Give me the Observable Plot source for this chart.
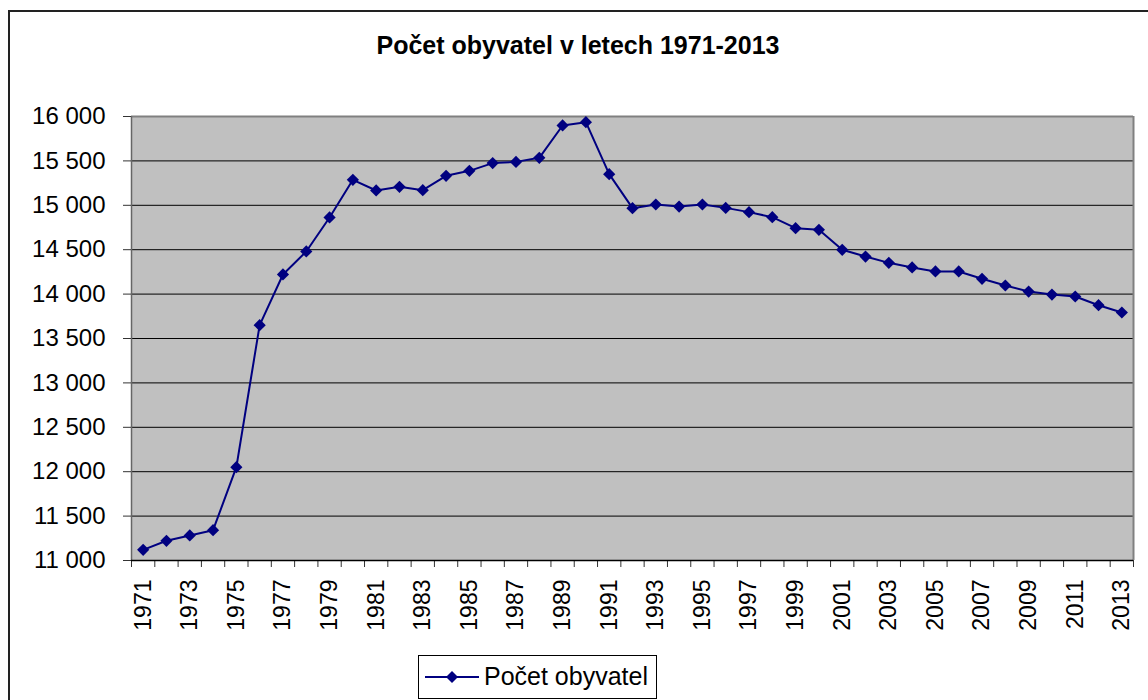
<!DOCTYPE html>
<html>
<head>
<meta charset="utf-8">
<script src="https://cdn.jsdelivr.net/npm/d3@7"></script>
<script src="https://cdn.jsdelivr.net/npm/@observablehq/plot@0.6"></script>
<style>
  html, body { margin: 0; padding: 0; background: #fff; overflow: hidden; }
  #wrap { position: relative; width: 1148px; height: 700px; font-family: Arial, "Liberation Sans", sans-serif; }
  #border { position: absolute; left: 8px; top: 10px; width: 1160px; height: 720px; border: 2px solid #222; box-sizing: border-box; }
  #title { position: absolute; left: 0; width: 1156px; top: 30px; text-align: center; font-weight: bold; font-size: 25px; line-height: 30px; color: #000; }
  #chart { position: absolute; left: 0; top: 0; }
  #legend { position: absolute; left: 418px; top: 655px; width: 239px; height: 44px; border: 1px solid #000; box-sizing: border-box; background: #fff; }
  #legend svg { position: absolute; left: 0; top: 0; }
  #legend span { position: absolute; left: 65px; top: 5px; font-size: 25px; line-height: 30px; color: #000; white-space: nowrap; }
</style>
</head>
<body>
<div id="wrap">
  <div id="border"></div>
  <div id="title">Počet obyvatel v letech 1971-2013</div>
  <div id="chart"></div>
  <div id="legend">
    <svg width="70" height="42"><line x1="6" y1="21" x2="60" y2="21" stroke="#000080" stroke-width="2"/><path d="M33,15L39,21L33,27L27,21Z" fill="#000080"/></svg>
    <span>Počet obyvatel</span>
  </div>
</div>
<script>
const years = [1971,1972,1973,1974,1975,1976,1977,1978,1979,1980,1981,1982,1983,1984,1985,1986,1987,1988,1989,1990,1991,1992,1993,1994,1995,1996,1997,1998,1999,2000,2001,2002,2003,2004,2005,2006,2007,2008,2009,2010,2011,2012,2013];
const population = [11120,11222,11282,11341,12051,13650,14221,14480,14863,15287,15167,15208,15170,15332,15388,15475,15489,15535,15899,15936,15351,14968,15009,14986,15009,14971,14923,14866,14742,14724,14499,14423,14352,14300,14255,14255,14172,14097,14029,13995,13973,13875,13793];
const xTickLabels = [1971,1973,1975,1977,1979,1981,1983,1985,1987,1989,1991,1993,1995,1997,1999,2001,2003,2005,2007,2009,2011,2013];
const yTicks = [11000,11500,12000,12500,13000,13500,14000,14500,15000,15500,16000];
const seriesName = "Počet obyvatel";

const data = years.map((yr, i) => ({year: yr, value: population[i]}));
const x0 = years[0] - 0.5, x1 = years[years.length - 1] + 0.5;
const bandEdges = years.map(y => y - 0.5).concat([x1]);
const fmt = d => d3.format(",")(d).replace(/,/g, " ");

const chart = Plot.plot({
  width: 1148,
  height: 700,
  marginLeft: 131,
  marginRight: 15,
  marginTop: 116,
  marginBottom: 140,
  style: {fontFamily: "Arial, 'Liberation Sans', sans-serif", background: "transparent", color: "#000", overflow: "visible"},
  x: {domain: [x0, x1], type: "linear"},
  y: {domain: [yTicks[0], yTicks[yTicks.length - 1]]},
  marks: [
    Plot.frame({fill: "#c0c0c0", stroke: null}),
    Plot.gridY(yTicks.slice(1, -1), {stroke: "#000", strokeOpacity: 1, strokeWidth: 1}),
    Plot.ruleY([yTicks[yTicks.length - 1]], {stroke: "#808080", strokeWidth: 2}),
    Plot.ruleX([x1], {stroke: "#808080", strokeWidth: 2}),
    Plot.ruleX([x0], {stroke: "#666", strokeWidth: 1.5}),
    Plot.axisY({ticks: yTicks, tickSize: 8, tickPadding: 18, tickFormat: fmt, fontSize: 24, label: null, strokeOpacity: 1, stroke: "#333"}),
    Plot.axisX({ticks: bandEdges, tickSize: 7, tickFormat: () => "", label: null, stroke: "#333", strokeOpacity: 1}),
    Plot.axisX({ticks: xTickLabels, tickSize: 0, tickPadding: 19, tickRotate: -90, tickFormat: d => String(d), fontSize: 23, label: null}),
    Plot.ruleY([yTicks[0]], {stroke: "#000", strokeWidth: 1.5}),
    Plot.line(data, {x: "year", y: "value", stroke: "#000080", strokeWidth: 2}),
    Plot.dot(data, {x: "year", y: "value", symbol: "diamond2", r: 5.5, fill: "#000080", stroke: "none", title: d => `${seriesName} ${d.year}: ${fmt(d.value)}`})
  ]
});
document.getElementById("chart").appendChild(chart);
</script>
</body>
</html>
